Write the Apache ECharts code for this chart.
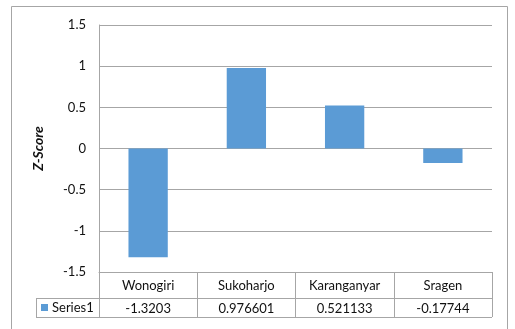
<!DOCTYPE html>
<html>
<head>
<meta charset="utf-8">
<script src="https://cdn.jsdelivr.net/npm/echarts@6/dist/echarts.min.js"></script>
<style>
  html, body { margin: 0; padding: 0; background: #fff; }
  #chart { width: 515px; height: 329px; }
</style>
</head>
<body>
<div id="chart"></div>
<script>
// Regencies and their Z-score values
const categories = ['Wonogiri', 'Sukoharjo', 'Karanganyar', 'Sragen'];
const series1 = [-1.3203, 0.976601, 0.521133, -0.17744];
const seriesName = 'Series1';
const axisTitle = 'Z-Score';

const FONT = 'Lato, "Open Sans", sans-serif';
const TEXT = '#111';
const LINE = '#a6a6a6';
const BAR = '#5b9bd5';

// Plot area and data-table geometry
const G = { left: 99, right: 23, top: 25, bottom: 57 };
const W = 515, H = 329;
const plotRight = W - G.right;
const plotBottom = H - G.bottom;   // header row top
const rowMid = plotBottom + 26;     // between header row and value row
const tableBottom = rowMid + 19;
const legendLeft = 36;

const chart = echarts.init(document.getElementById('chart'), null, { renderer: 'canvas' });

chart.setOption({
  animation: false,
  backgroundColor: '#fff',
  grid: { left: G.left, right: G.right, top: G.top, bottom: G.bottom, containLabel: false },
  xAxis: [
    {
      type: 'category',
      data: categories,
      position: 'bottom',
      axisLine: { show: true, onZero: false, lineStyle: { color: LINE, width: 1 } },
      axisTick: { show: true, length: tableBottom - plotBottom, interval: 0, alignWithLabel: false,
                  lineStyle: { color: LINE, width: 1 } },
      axisLabel: { margin: 7, color: TEXT, fontFamily: FONT, fontSize: 13, interval: 0 }
    },
    {
      type: 'category',
      data: series1.map(v => String(v)),
      position: 'bottom',
      offset: rowMid - plotBottom,
      axisLine: { show: true, onZero: false, lineStyle: { color: LINE, width: 1 } },
      axisTick: { show: false },
      axisLabel: { margin: 4, color: TEXT, fontFamily: FONT, fontSize: 13, interval: 0 }
    }
  ],
  yAxis: {
    type: 'value',
    min: -1.5,
    max: 1.5,
    interval: 0.5,
    name: axisTitle,
    nameLocation: 'middle',
    nameRotate: 90,
    nameGap: 54,
    nameTextStyle: { fontFamily: FONT, fontSize: 14, fontWeight: 'bold', fontStyle: 'italic', color: TEXT },
    axisLine: { show: true, lineStyle: { color: LINE, width: 1 } },
    axisTick: { show: false },
    axisLabel: { margin: 13, color: TEXT, fontFamily: FONT, fontSize: 13 },
    splitLine: { show: true, lineStyle: { color: LINE, width: 1 } }
  },
  series: [{
    name: seriesName,
    type: 'bar',
    xAxisIndex: 0,
    data: series1,
    barWidth: '40%',
    itemStyle: { color: BAR }
  }],
  graphic: [
    // outer chart border
    { type: 'rect', silent: true, shape: { x: 11.5, y: 6.5, width: 496, height: 340 },
      style: { fill: 'none', stroke: LINE, lineWidth: 1 } },
    // data table: legend cell and bottom edge
    { type: 'line', silent: true, shape: { x1: legendLeft, y1: rowMid + 0.5, x2: G.left, y2: rowMid + 0.5 },
      style: { stroke: LINE, lineWidth: 1 } },
    { type: 'line', silent: true, shape: { x1: legendLeft, y1: tableBottom + 0.5, x2: plotRight, y2: tableBottom + 0.5 },
      style: { stroke: LINE, lineWidth: 1 } },
    { type: 'line', silent: true, shape: { x1: legendLeft + 0.5, y1: rowMid, x2: legendLeft + 0.5, y2: tableBottom },
      style: { stroke: LINE, lineWidth: 1 } },
    { type: 'rect', silent: true, shape: { x: 41, y: rowMid + 6, width: 7, height: 7 },
      style: { fill: BAR } },
    { type: 'text', silent: true, x: 52, y: rowMid + 10,
      style: { text: seriesName, fontFamily: FONT, fontSize: 13, fill: TEXT, verticalAlign: 'middle' } }
  ]
});
</script>
</body>
</html>
